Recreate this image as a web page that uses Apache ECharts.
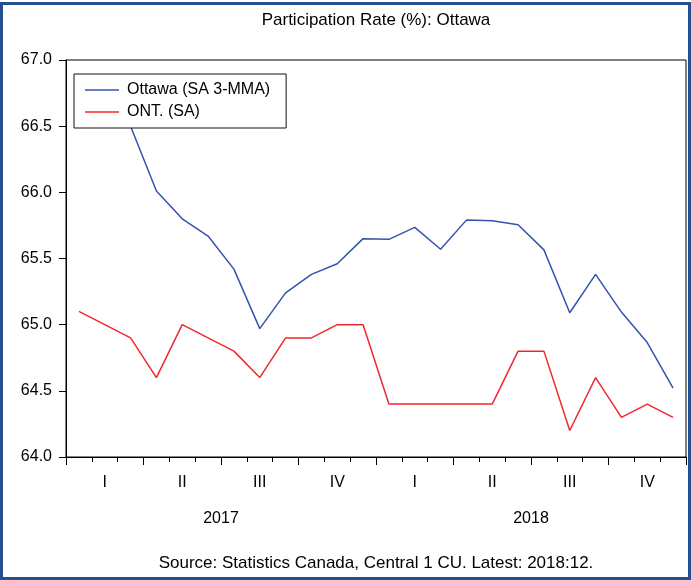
<!DOCTYPE html>
<html>
<head>
<meta charset="utf-8">
<script src="https://cdn.jsdelivr.net/npm/echarts@6/dist/echarts.min.js"></script>
<style>
html,body{margin:0;padding:0;background:#fff;}
#chart{width:691px;height:580px;}
</style>
</head>
<body>
<div id="chart"></div>
<script>
// ---- data ----
const months = [
  '2017-01','2017-02','2017-03','2017-04','2017-05','2017-06',
  '2017-07','2017-08','2017-09','2017-10','2017-11','2017-12',
  '2018-01','2018-02','2018-03','2018-04','2018-05','2018-06',
  '2018-07','2018-08','2018-09','2018-10','2018-11','2018-12'
];
const quarterLabels = ['I', 'II', 'III', 'IV'];
const yearLabels = ['2017', '2018'];
const ottawa = [66.80, 66.70, 66.50, 66.01, 65.80, 65.67, 65.42, 64.97, 65.24, 65.38, 65.46, 65.65,
                65.645, 65.735, 65.57, 65.79, 65.785, 65.755, 65.565, 65.09, 65.38, 65.095, 64.865, 64.52];
const ontario = [65.1, 65.0, 64.9, 64.6, 65.0, 64.9, 64.8, 64.6, 64.9, 64.9, 65.0, 65.0,
                 64.4, 64.4, 64.4, 64.4, 64.4, 64.8, 64.8, 64.2, 64.6, 64.3, 64.4, 64.3];
const seriesNames = ['Ottawa (SA 3-MMA)', 'ONT. (SA)'];
const titleText = 'Participation Rate (%): Ottawa';
const sourceText = 'Source: Statistics Canada, Central 1 CU. Latest: 2018:12.';

const FONT = 'Liberation Sans, Arial, sans-serif';
const chart = echarts.init(document.getElementById('chart'), null, {renderer: 'canvas'});
const gridLeft = 66, gridRight = 5, gridTop = 60, gridBottom = 123;
const plotCenterX = gridLeft + (691 - gridLeft - gridRight) / 2;

chart.setOption({
  animation: false,
  backgroundColor: '#fff',
  grid: {left: gridLeft, right: gridRight, top: gridTop, bottom: gridBottom,
         show: true, borderColor: '#000', borderWidth: 1, backgroundColor: 'transparent'},
  legend: {
    orient: 'vertical', left: 74, top: 74,
    backgroundColor: '#fff', borderColor: '#111', borderWidth: 1,
    padding: [8, 16, 8, 11], itemGap: 6, itemWidth: 34, itemHeight: 1.5,
    icon: 'rect',
    selectedMode: false,
    textStyle: {fontFamily: FONT, fontSize: 16, color: '#000', lineHeight: 16, padding: [0, 0, 0, 3]},
    data: seriesNames
  },
  xAxis: [
    {
      type: 'category', data: months, boundaryGap: true, position: 'bottom',
      axisLine: {show: true, lineStyle: {color: '#000', width: 1}},
      axisTick: {show: true, interval: 0, length: 5, lineStyle: {color: '#000'}},
      axisLabel: {
        interval: function (idx) { return idx % 3 === 1; },
        formatter: function (v, idx) { return quarterLabels[Math.floor(idx / 3) % 4]; },
        fontFamily: FONT, fontSize: 16, color: '#000', margin: 18
      },
      splitLine: {show: false}
    },
    {
      type: 'category', data: months, boundaryGap: true, position: 'bottom',
      axisLine: {show: false},
      axisTick: {show: true, interval: function (idx) { return idx % 3 === 0; }, length: 8, lineStyle: {color: '#000'}},
      axisLabel: {show: false},
      splitLine: {show: false}
    },
    {
      type: 'category', data: yearLabels, boundaryGap: true, position: 'bottom',
      axisLine: {show: false}, axisTick: {show: false},
      axisLabel: {show: true, interval: 0, fontFamily: FONT, fontSize: 16, color: '#000', margin: 54},
      splitLine: {show: false}
    }
  ],
  yAxis: {
    type: 'value', min: 64, max: 67, interval: 0.5,
    axisLine: {show: true, lineStyle: {color: '#000'}},
    axisTick: {show: true, length: 7, lineStyle: {color: '#000'}},
    axisLabel: {formatter: function (v) { return v.toFixed(1); },
                fontFamily: FONT, fontSize: 16, color: '#000', margin: 14},
    splitLine: {show: false}
  },
  series: [
    {name: seriesNames[0], type: 'line', data: ottawa, xAxisIndex: 0, symbol: 'none',
     lineStyle: {color: '#3553AE', width: 1.5}, itemStyle: {color: '#3553AE'}, z: 3},
    {name: seriesNames[1], type: 'line', data: ontario, xAxisIndex: 0, symbol: 'none',
     lineStyle: {color: '#F2272D', width: 1.5}, itemStyle: {color: '#F2272D'}, z: 3}
  ],
  graphic: [
    {type: 'text', x: plotCenterX, y: 20, z: 10,
     style: {text: titleText, font: '17px ' + FONT, fill: '#000', textAlign: 'center', textVerticalAlign: 'middle'}},
    {type: 'text', x: plotCenterX, y: 563, z: 10,
     style: {text: sourceText, font: '17px ' + FONT, fill: '#000', textAlign: 'center', textVerticalAlign: 'middle'}},
    {type: 'rect', z: 20, silent: true,
     shape: {x: 1.5, y: 3.5, width: 688, height: 575},
     style: {fill: 'none', stroke: '#24508F', lineWidth: 3}}
  ]
});
</script>
</body>
</html>
